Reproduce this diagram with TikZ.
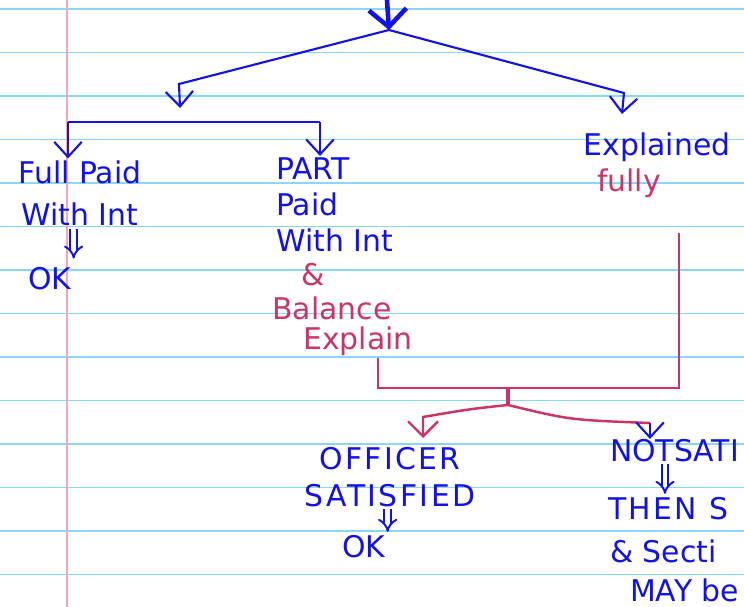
\documentclass[tikz,border=0pt]{standalone}
\usepackage{fontspec}
\setmainfont{DejaVu Sans}
\usetikzlibrary{positioning, arrows.meta}
\definecolor{ink}{HTML}{1212E4}
\definecolor{redink}{HTML}{CC3366}
\definecolor{ruling}{HTML}{8AD6F6}
\definecolor{margin}{HTML}{F6A6BA}

\begin{document}
\begin{tikzpicture}[x=0.02cm, y=-0.02cm,
    every node/.style={font=\fontsize{17}{21}\selectfont, inner sep=1pt},
    txt/.style={text=ink, align=center},
    redtxt/.style={text=redink, align=center},
    caps/.style={font=\fontsize{17}{21}\selectfont\addfontfeature{LetterSpace=8}},
    arr/.style={draw=ink, line width=1.2pt,
      -{Straight Barb[length=3mm, width=5.5mm]}},
    dbl/.style={draw=ink, double, double distance=2.6pt, line width=1.1pt,
      -{Implies}},
    brk/.style={draw=redink, line width=1.4pt}]

  % ruled page
  \useasboundingbox (0,0) rectangle (744,607);
  \clip (0,0) rectangle (744,607);
  \fill[white] (0,0) rectangle (744,607);
  \foreach \k in {0,...,13}
    \draw[ruling, line width=0.9pt] (0,9+43.5*\k) -- (744,9+43.5*\k);
  \draw[margin, line width=0.8pt] (67,0) -- (67,607);

  % first level
  \node[txt, font=\fontsize{17}{24}\selectfont] (fullpaid) at (80,193)
    {Full Paid\\With Int};
  \node[txt] (ok1) at (50,279) {OK};
  \node[txt, align=left, anchor=west, font=\fontsize{17}{20.5}\selectfont]
    (partpaid) at (274,205) {PART\\Paid\\With Int};
  \node[redtxt] (amp) at (313,275) {\&};
  \node[redtxt] (balance) at (332,308) {Balance};
  \node[redtxt] (explain) at (358,341) {Explain};
  \node[txt] (explained) at (657,147) {Explained};
  \node[redtxt] (fully) at (629,183) {fully};

  % second level
  \node[txt, caps] (officer) at (390,477) {OFFICER\\SATISFIED};
  \node[txt] (ok2) at (364,547) {OK};
  \node[txt, anchor=west] (notsat) at (608,451) {NOTSATI};
  \node[txt, caps, anchor=west] (thens) at (606,509) {THEN S};
  \node[txt, anchor=west] (secti) at (608,551) {\& Secti};
  \node[txt, anchor=west] (maybe) at (628,590) {MAY be};

  % top split
  \coordinate (top) at (387,0);
  \coordinate (apex) at (389,30);
  \coordinate (lbend) at (179,84);
  \coordinate (ltip) at (180,108);
  \coordinate (rbend) at (624,93);
  \coordinate (rtip) at (622,114);
  \draw[ink, line width=2.6pt, -{Straight Barb[length=3.5mm, width=7.5mm]}]
    (top) -- (apex);
  \draw[arr] (apex) -- (lbend) -- (ltip);
  \draw[arr] (apex) -- (rbend) -- (rtip);

  % bar over the two payments
  \coordinate (barl) at (68,122);
  \coordinate (barr) at (320,122);
  \draw[ink, line width=1.3pt] (barl) -- (barr);
  \draw[arr] (barl) -- (barl |- fullpaid.north);
  \draw[arr] (barr) -- (barr |- partpaid.north);
  \draw[dbl, shorten <=1pt, shorten >=4pt]
    (ok1.north east |- fullpaid.south) -- (ok1.north east);

  % red bracket joining both explanations
  \coordinate (jl) at (378,388);
  \coordinate (jr) at (679,388);
  \coordinate (jtop) at (679,233);
  \coordinate (split) at (508,388);
  \coordinate (fork) at (508,405);
  \draw[brk] (jl |- explain.south) -- (jl) -- (jr) -- (jtop);
  \draw[brk, line width=2.8pt] (split) -- (fork);

  \coordinate (obend) at (423,417);
  \coordinate (otip) at (423,438);
  \coordinate (nbend) at (650,423);
  \coordinate (ntip) at (650,439);
  \draw[brk, -{Straight Barb[length=3mm, width=6mm]}]
    (fork) .. controls (470,409) .. (obend) -- (otip);
  \draw[brk] (fork) .. controls (570,420) .. (nbend);
  \draw[arr] (nbend) -- (ntip);

  \draw[dbl, shorten <=0pt, shorten >=1pt]
    (officer.south -| ok2.north east) -- (ok2.north east);
  \draw[dbl, shorten <=0pt, shorten >=1pt]
    (notsat.south -| 665,0) -- (thens.north -| 665,0);
\end{tikzpicture}
\end{document}
